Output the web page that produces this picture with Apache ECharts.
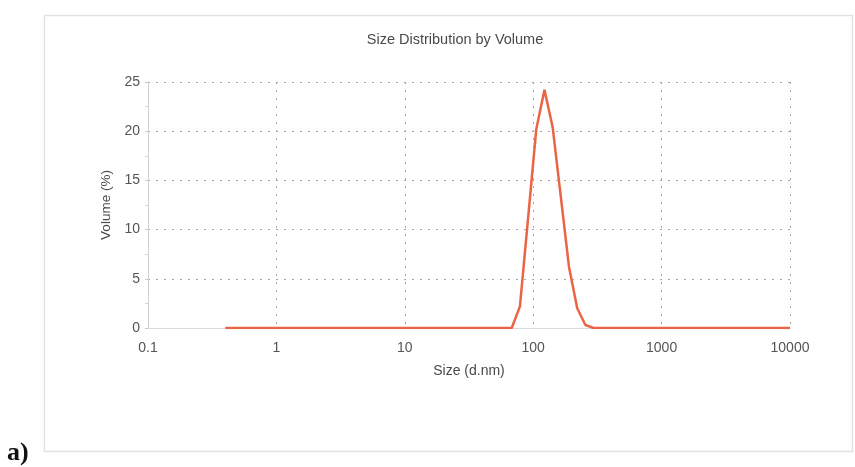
<!DOCTYPE html>
<html>
<head>
<meta charset="utf-8">
<script src="https://cdn.jsdelivr.net/npm/echarts@6/dist/echarts.min.js"></script>
<style>
  html, body { margin: 0; padding: 0; background: #ffffff; }
  #chart { width: 855px; height: 467px; }
</style>
</head>
<body>
<div id="chart"></div>
<script>
// Size bins (d.nm), logarithmically spaced from 0.4 to 10000
var sizes = [
  0.4, 0.4632, 0.5365, 0.6213, 0.7195, 0.8332, 0.9649, 1.117, 1.294, 1.499,
  1.736, 2.010, 2.328, 2.696, 3.122, 3.615, 4.187, 4.849, 5.615, 6.503,
  7.531, 8.721, 10.10, 11.70, 13.54, 15.69, 18.17, 21.04, 24.36, 28.21,
  32.67, 37.84, 43.82, 50.75, 58.77, 68.06, 78.82, 91.28, 105.7, 122.4,
  141.8, 164.2, 190.1, 220.2, 255.0, 295.3, 342.0, 396.1, 458.7, 531.2,
  615.1, 712.4, 825.0, 955.4, 1106, 1281, 1484, 1718, 1990, 2305,
  2669, 3091, 3580, 4145, 4801, 5560, 6439, 7456, 8635, 10000
];

// Volume (%) in each size bin
var volume = [
  0, 0, 0, 0, 0, 0, 0, 0, 0, 0,
  0, 0, 0, 0, 0, 0, 0, 0, 0, 0,
  0, 0, 0, 0, 0, 0, 0, 0, 0, 0,
  0, 0, 0, 0, 0, 0, 2.2, 11.2, 20.2, 24.2,
  20.4, 13.3, 6.2, 2.0, 0.3, 0, 0, 0, 0, 0,
  0, 0, 0, 0, 0, 0, 0, 0, 0, 0,
  0, 0, 0, 0, 0, 0, 0, 0, 0, 0
];

var xTickLabels = ['0.1', '1', '10', '100', '1000', '10000'];
var yTicks = [0, 5, 10, 15, 20, 25];

var points = sizes.map(function (s, i) { return [s, volume[i]]; });

var chart = echarts.init(document.getElementById('chart'), null, { renderer: 'canvas' });

var gridLine = { show: true, lineStyle: { color: '#a8a8a8', type: [2, 6], width: 1 } };

chart.setOption({
  animation: false,
  backgroundColor: '#ffffff',
  title: {
    text: 'Size Distribution by Volume',
    left: 450,
    top: 27,
    textAlign: 'center',
    textStyle: { fontFamily: 'Liberation Sans', fontSize: 14.5, fontWeight: 'normal', color: '#4a4a4a' }
  },
  grid: { left: 148, right: 65, top: 82, bottom: 139 },
  xAxis: {
    type: 'log',
    logBase: 10,
    min: 0.1,
    max: 10000,
    name: 'Size (d.nm)',
    nameLocation: 'middle',
    nameGap: 36,
    nameTextStyle: { fontFamily: 'Liberation Sans', fontSize: 14, color: '#4a4a4a' },
    axisLine: { show: true, lineStyle: { color: '#d8dbe2', width: 1 } },
    axisTick: { show: false },
    axisLabel: {
      fontFamily: 'Liberation Sans', fontSize: 14, color: '#555', margin: 13,
      formatter: function (v) {
        var k = Math.round(Math.log10(v)) + 1;
        return xTickLabels[k] !== undefined ? xTickLabels[k] : '';
      }
    },
    splitLine: gridLine
  },
  yAxis: {
    type: 'value',
    min: 0,
    max: 25,
    interval: 5,
    name: 'Volume (%)',
    nameLocation: 'middle',
    nameGap: 29,
    nameRotate: 90,
    nameTextStyle: { fontFamily: 'Liberation Sans', fontSize: 13.5, color: '#4a4a4a' },
    axisLine: { show: true, lineStyle: { color: '#d0d0d0', width: 1 } },
    axisTick: { show: true, length: 3, lineStyle: { color: '#c8c8c8' } },
    minorTick: { show: true, splitNumber: 2, length: 3, lineStyle: { color: '#d8d8d8' } },
    axisLabel: {
      fontFamily: 'Liberation Sans', fontSize: 14, color: '#555', margin: 8,
      formatter: function (v) { return yTicks.indexOf(v) >= 0 ? String(v) : ''; }
    },
    splitLine: gridLine
  },
  series: [{
    type: 'line',
    data: points,
    showSymbol: false,
    symbol: 'none',
    lineStyle: { color: '#ec6446', width: 2.5 },
    z: 5
  }],
  graphic: [
    {
      type: 'rect',
      shape: { x: 44.5, y: 15.5, width: 808, height: 436 },
      style: { fill: 'none', stroke: '#e2e2e2', lineWidth: 1.5 },
      silent: true
    },
    {
      type: 'text',
      left: 7,
      top: 440,
      style: { text: 'a)', font: 'bold 26px "Liberation Serif"', fill: '#111' }
    }
  ]
});
</script>
</body>
</html>
